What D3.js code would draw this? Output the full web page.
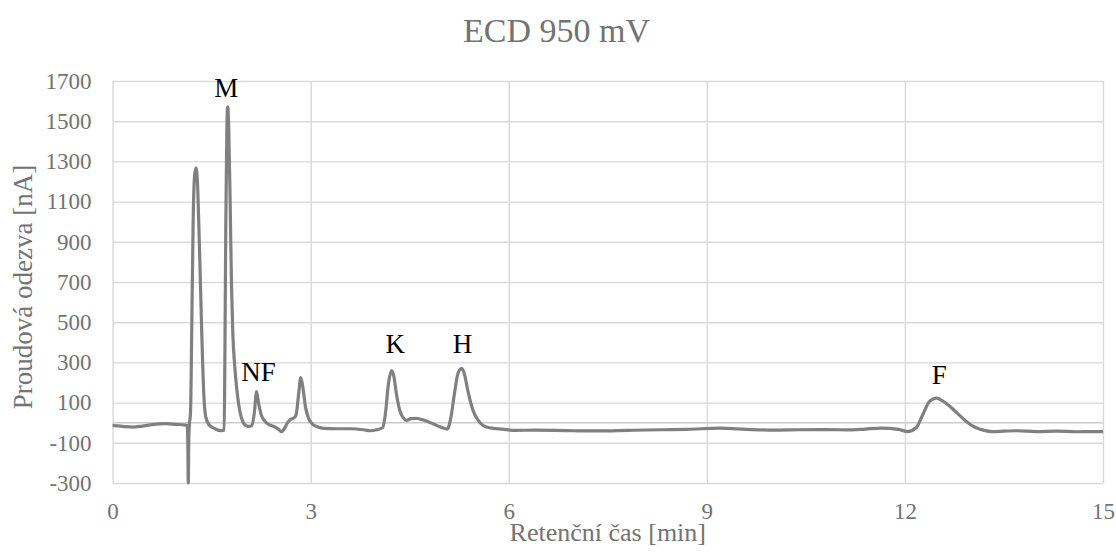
<!DOCTYPE html>
<html lang="cs">
  <head>
    <meta charset="UTF-8" />
    <script src="https://cdn.jsdelivr.net/npm/d3@7/dist/d3.min.js"></script>
    <title>ECD 950 mV</title>
    <style>
      body {
        margin: 0;
        background: #fff;
      }
      svg text {
        font-family: "Liberation Serif", "Times New Roman", Times, serif !important;
      }
    </style>
  </head>

  <body>
    <svg width="1116" height="560" class="svg"></svg>
    <script>
      // retenční čas [min]
      const times = [
        0, 0.15, 0.3, 0.45, 0.6, 0.8, 0.95, 1.1, 1.13, 1.138, 1.146, 1.154, 1.162, 1.18,
        1.2, 1.22, 1.24, 1.262, 1.285, 1.3, 1.32, 1.35, 1.38, 1.41, 1.46, 1.55, 1.65, 1.69,
        1.7, 1.715, 1.73, 1.743, 1.76, 1.78, 1.8, 1.82, 1.85, 1.88, 1.91, 1.95, 1.99, 2.05,
        2.11, 2.15, 2.18, 2.21, 2.25, 2.3, 2.36, 2.45, 2.52, 2.56, 2.6, 2.65, 2.69, 2.75,
        2.78, 2.82, 2.85, 2.88, 2.92, 2.97, 3.03, 3.1, 3.2, 3.4, 3.6, 3.8, 3.9, 4.0,
        4.09, 4.13, 4.18, 4.227, 4.26, 4.3, 4.35, 4.4, 4.45, 4.52, 4.6, 4.72, 4.85, 4.97,
        5.07, 5.12, 5.18, 5.23, 5.287, 5.33, 5.38, 5.46, 5.53, 5.61, 5.72, 5.9, 6.1, 6.4,
        6.7, 7.0, 7.4, 7.8, 8.3, 8.7, 9.2, 9.6, 10.0, 10.4, 10.8, 11.2, 11.4, 11.64,
        11.9, 12.04, 12.17, 12.27, 12.37, 12.48, 12.57, 12.67, 12.8, 12.92, 13.07, 13.2, 13.32, 13.5,
        13.68, 14.0, 14.3, 14.6, 15
      ];
      // proudová odezva [nA]
      const currents = [
        -15, -18, -22, -17, -10, -5, -8, -12, -14, -80, -300, -80, -15, 50,
        500, 1000, 1220, 1268, 1200, 1050, 820, 450, 150, 30, -10, -30, -40, -38,
        300, 1000, 1450, 1572, 1450, 1100, 700, 450, 280, 170, 90, 25, -5, -18,
        -15, 60, 155, 100, 40, 10, -8, -20, -35, -45, -30, 0, 15, 25,
        40, 150, 225, 180, 80, 20, -8, -20, -28, -30, -30, -35, -40, -35,
        -25, 40, 200, 259, 230, 140, 60, 25, 12, 20, 22, 12, -5, -22,
        -32, 20, 150, 245, 270, 240, 160, 60, 15, -14, -26, -32, -38, -37,
        -38, -40, -41, -38, -35, -33, -27, -33, -37, -35, -34, -36, -32, -27,
        -33, -44, -25, 40, 105, 122, 108, 84, 45, 9, -24, -38, -44, -42,
        -40, -44, -42, -45, -44
      ];

      const xTicks = [0, 3, 6, 9, 12, 15];
      const yTicks = [-300, -100, 100, 300, 500, 700, 900, 1100, 1300, 1500, 1700];

      // popisky píků
      const peakNames = ['M', 'NF', 'K', 'H', 'F'];
      const peakTimes = [1.72, 2.21, 4.28, 5.3, 12.52];
      const peakLabelY = [1622, 206, 346, 346, 193];

      const data = times.map((t, i) => ({ t: t, v: currents[i] }));

      const svg = d3.select('.svg');
      const width = +svg.attr('width');
      const height = +svg.attr('height');
      const margin = { top: 81, right: 13, bottom: 77, left: 112.6 };
      const innerWidth = width - margin.left - margin.right;
      const innerHeight = height - margin.top - margin.bottom;

      const x = d3.scaleLinear().domain([0, 15]).range([0, innerWidth]);
      const y = d3.scaleLinear().domain([-300, 1700]).range([innerHeight, 0]);

      // bez čárek a s obyčejným minus
      const fmt = (d) => String(d);

      const g = svg
        .append('g')
        .attr('transform', `translate(${margin.left}, ${margin.top})`);

      // mřížka
      g.append('g')
        .call(d3.axisLeft(y).tickValues(yTicks).tickSize(-innerWidth).tickFormat(''))
        .call((s) => s.select('.domain').remove())
        .selectAll('line')
        .attr('stroke', '#d9d9d9')
        .attr('stroke-width', 1.4);

      g.append('g')
        .attr('transform', `translate(0, ${innerHeight})`)
        .call(d3.axisBottom(x).tickValues(xTicks).tickSize(-innerHeight).tickFormat(''))
        .call((s) => s.select('.domain').remove())
        .selectAll('line')
        .attr('stroke', '#d9d9d9')
        .attr('stroke-width', 1.4);

      // osa v nule
      g.append('line')
        .attr('x1', 0)
        .attr('x2', innerWidth)
        .attr('y1', y(0))
        .attr('y2', y(0))
        .attr('stroke', '#cccccc')
        .attr('stroke-width', 1.4);

      // popisky os
      const yAxis = g
        .append('g')
        .call(d3.axisLeft(y).tickValues(yTicks).tickSize(0).tickPadding(21).tickFormat(fmt));
      yAxis.select('.domain').remove();
      yAxis
        .selectAll('text')
        .attr('font-size', 23)
        .attr('fill', '#737373');

      const xAxis = g
        .append('g')
        .attr('transform', `translate(0, ${innerHeight})`)
        .call(d3.axisBottom(x).tickValues(xTicks).tickSize(0).tickPadding(20).tickFormat(fmt));
      xAxis.select('.domain').remove();
      xAxis
        .selectAll('text')
        .attr('font-size', 23)
        .attr('fill', '#737373');

      // křivka
      const line = d3
        .line()
        .x((d) => x(d.t))
        .y((d) => y(d.v))
        .curve(d3.curveMonotoneX);

      g.append('path')
        .datum(data)
        .attr('d', line)
        .attr('fill', 'none')
        .attr('stroke', '#808080')
        .attr('stroke-width', 3.2)
        .attr('stroke-linejoin', 'round');

      // popisky píků
      g.selectAll('.peak')
        .data(peakNames)
        .enter()
        .append('text')
        .attr('class', 'peak')
        .attr('x', (d, i) => x(peakTimes[i]))
        .attr('y', (d, i) => y(peakLabelY[i]))
        .attr('text-anchor', 'middle')
        .attr('font-size', 27)
        .attr('fill', '#000')
        .text((d) => d);

      // nadpis
      svg.append('text')
        .text('ECD 950 mV')
        .attr('x', 556.5)
        .attr('y', 42)
        .attr('text-anchor', 'middle')
        .attr('font-size', 34)
        .attr('fill', '#737373');

      svg.append('text')
        .text('Retenční čas [min]')
        .attr('x', margin.left + innerWidth / 2)
        .attr('y', 541)
        .attr('text-anchor', 'middle')
        .attr('font-size', 26)
        .attr('fill', '#737373');

      svg.append('text')
        .text('Proudová odezva [nA]')
        .attr('transform', `translate(32, ${margin.top + innerHeight / 2 + 5}) rotate(-90)`)
        .attr('text-anchor', 'middle')
        .attr('font-size', 27)
        .attr('fill', '#737373');
    </script>
  </body>
</html>
